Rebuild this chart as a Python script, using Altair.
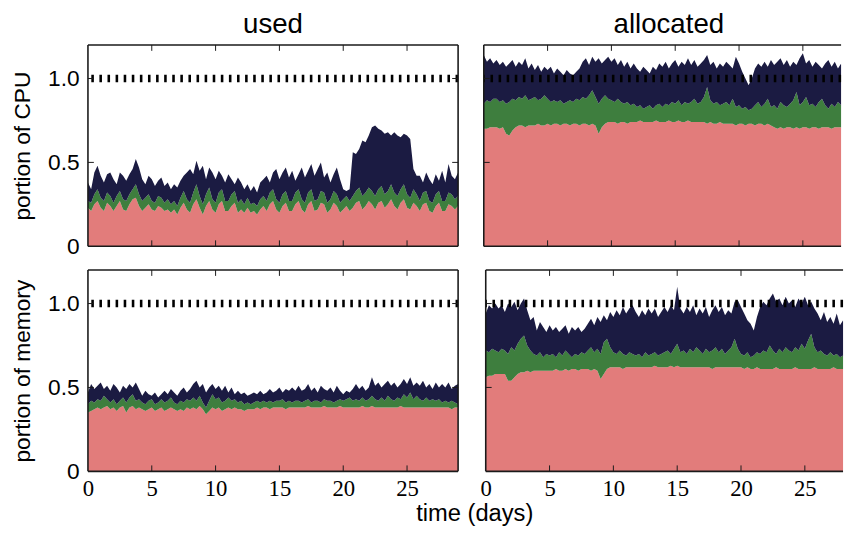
import altair as alt
import pandas as pd

days = [i * 0.25 for i in range(117)]

x_tick_values = [0, 5, 10, 15, 20, 25]
inner_x_ticks = [5, 10, 15, 20, 25]
y_tick_values = [0, 0.5, 1.0]
inner_y_ticks = [0.5, 1.0]
capacity_line = [1.0]

row_titles = ["portion of CPU", "portion of memory"]
col_titles = ["used", "allocated"]
x_title = "time (days)"

# CPU used: top of salmon, top of green, top of navy
cpu_used_base = [
    0.23, 0.21, 0.25, 0.27, 0.23, 0.21, 0.26, 0.24, 0.21, 0.24, 0.27, 0.22, 0.21, 0.25, 0.28, 0.29, 0.24, 0.21, 0.23, 0.25,
    0.22, 0.21, 0.24, 0.23, 0.21, 0.22, 0.20, 0.22, 0.19, 0.23, 0.26, 0.22, 0.20, 0.25, 0.28, 0.23, 0.19, 0.24, 0.27, 0.22,
    0.20, 0.25, 0.27, 0.21, 0.21, 0.24, 0.26, 0.20, 0.22, 0.20, 0.23, 0.20, 0.21, 0.19, 0.22, 0.24, 0.21, 0.25, 0.27, 0.22,
    0.20, 0.24, 0.26, 0.21, 0.21, 0.25, 0.27, 0.22, 0.20, 0.25, 0.27, 0.21, 0.22, 0.26, 0.25, 0.20, 0.22, 0.26, 0.24, 0.20,
    0.22, 0.24, 0.21, 0.23, 0.26, 0.27, 0.22, 0.24, 0.27, 0.25, 0.22, 0.26, 0.27, 0.23, 0.25, 0.28, 0.24, 0.22, 0.26, 0.28,
    0.23, 0.22, 0.26, 0.24, 0.21, 0.25, 0.26, 0.21, 0.20, 0.24, 0.26, 0.21, 0.21, 0.25, 0.24, 0.22, 0.24,
]
cpu_used_mid = [
    0.27, 0.26, 0.31, 0.34, 0.29, 0.27, 0.32, 0.30, 0.26, 0.30, 0.33, 0.28, 0.27, 0.31, 0.34, 0.37, 0.31, 0.27, 0.29, 0.31,
    0.27, 0.26, 0.30, 0.29, 0.26, 0.28, 0.25, 0.27, 0.24, 0.29, 0.33, 0.28, 0.26, 0.32, 0.37, 0.30, 0.25, 0.31, 0.35, 0.28,
    0.26, 0.32, 0.34, 0.27, 0.27, 0.31, 0.33, 0.26, 0.28, 0.25, 0.29, 0.25, 0.26, 0.24, 0.28, 0.30, 0.27, 0.32, 0.34, 0.28,
    0.26, 0.31, 0.33, 0.27, 0.27, 0.32, 0.34, 0.28, 0.26, 0.32, 0.34, 0.27, 0.28, 0.33, 0.32, 0.26, 0.28, 0.33, 0.31, 0.26,
    0.28, 0.30, 0.27, 0.30, 0.33, 0.35, 0.30, 0.32, 0.35, 0.33, 0.30, 0.34, 0.36, 0.31, 0.33, 0.37, 0.32, 0.30, 0.34, 0.37,
    0.31, 0.29, 0.34, 0.31, 0.27, 0.32, 0.33, 0.27, 0.26, 0.31, 0.33, 0.27, 0.27, 0.32, 0.31, 0.28, 0.30,
]
cpu_used_top = [
    0.38, 0.34, 0.44, 0.48, 0.42, 0.38, 0.43, 0.44, 0.40, 0.37, 0.44, 0.42, 0.39, 0.43, 0.46, 0.52, 0.47, 0.40, 0.37, 0.42,
    0.40, 0.36, 0.39, 0.41, 0.36, 0.38, 0.34, 0.37, 0.35, 0.39, 0.42, 0.44, 0.46, 0.43, 0.51, 0.45, 0.48, 0.40, 0.47, 0.44,
    0.40, 0.45, 0.42, 0.38, 0.43, 0.40, 0.37, 0.41, 0.38, 0.34, 0.37, 0.33, 0.36, 0.32, 0.38, 0.40, 0.42, 0.38, 0.44, 0.46,
    0.40, 0.44, 0.47, 0.41, 0.45, 0.39, 0.43, 0.47, 0.41, 0.45, 0.49, 0.42, 0.46, 0.50, 0.41, 0.44, 0.38, 0.43, 0.47, 0.40,
    0.34, 0.33, 0.34, 0.56, 0.55, 0.58, 0.63, 0.62, 0.66, 0.71, 0.72, 0.70, 0.69, 0.67, 0.68, 0.66, 0.68, 0.66, 0.65, 0.67,
    0.66, 0.64, 0.46, 0.42, 0.42, 0.38, 0.44, 0.40, 0.37, 0.43, 0.39, 0.45, 0.38, 0.49, 0.42, 0.40, 0.44,
]

# CPU allocated
cpu_alloc_base = [
    0.70, 0.70, 0.71, 0.71, 0.71, 0.70, 0.71, 0.67, 0.66, 0.69, 0.71, 0.72, 0.72, 0.71, 0.72, 0.72, 0.72, 0.73, 0.72, 0.72,
    0.73, 0.72, 0.73, 0.73, 0.72, 0.73, 0.73, 0.72, 0.73, 0.73, 0.72, 0.73, 0.73, 0.72, 0.73, 0.72, 0.67, 0.71, 0.73, 0.74,
    0.74, 0.74, 0.73, 0.74, 0.74, 0.73, 0.74, 0.74, 0.74, 0.75, 0.74, 0.74, 0.74, 0.74, 0.75, 0.74, 0.74, 0.74, 0.75, 0.74,
    0.74, 0.75, 0.74, 0.74, 0.75, 0.74, 0.74, 0.74, 0.74, 0.74, 0.73, 0.74, 0.73, 0.73, 0.74, 0.73, 0.73, 0.73, 0.73, 0.72,
    0.73, 0.73, 0.72, 0.73, 0.73, 0.72, 0.73, 0.73, 0.72, 0.73, 0.72, 0.71, 0.70, 0.71, 0.70, 0.71, 0.71, 0.70, 0.71, 0.70,
    0.71, 0.71, 0.70, 0.71, 0.71, 0.70, 0.71, 0.71, 0.71, 0.70, 0.71, 0.71, 0.71, 0.70, 0.70, 0.70, 0.70,
]
cpu_alloc_mid = [
    0.85, 0.87, 0.86, 0.88, 0.88, 0.86, 0.87, 0.85, 0.86, 0.88, 0.87, 0.89, 0.88, 0.90, 0.87, 0.88, 0.89, 0.87, 0.88, 0.90,
    0.88, 0.86, 0.87, 0.86, 0.87, 0.85, 0.86, 0.87, 0.86, 0.88, 0.87, 0.89, 0.88, 0.90, 0.93, 0.89, 0.85, 0.88, 0.90, 0.88,
    0.87, 0.86, 0.88, 0.86, 0.85, 0.86, 0.84, 0.85, 0.83, 0.84, 0.82, 0.83, 0.84, 0.82, 0.84, 0.85, 0.83, 0.85, 0.84, 0.86,
    0.85, 0.87, 0.84, 0.86, 0.85, 0.86, 0.88, 0.85, 0.86, 0.89, 0.95, 0.87, 0.85, 0.86, 0.84, 0.85, 0.86, 0.84, 0.88, 0.83,
    0.84, 0.82, 0.83, 0.81, 0.82, 0.84, 0.86, 0.83, 0.85, 0.88, 0.83, 0.84, 0.82, 0.86, 0.84, 0.83, 0.85, 0.87, 0.92, 0.84,
    0.86, 0.89, 0.84, 0.85, 0.83, 0.86, 0.88, 0.84, 0.82, 0.85, 0.83, 0.86, 0.84, 0.82, 0.85, 0.81, 0.79,
]
cpu_alloc_top = [
    1.14, 1.10, 1.12, 1.09, 1.11, 1.08, 1.10, 1.07, 1.09, 1.11, 1.07, 1.10, 1.08, 1.12, 1.06, 1.09, 1.05, 1.08, 1.04, 1.07,
    1.05, 1.07, 1.03, 1.06, 1.04, 1.02, 1.05, 1.03, 1.02, 1.04, 1.06, 1.10, 1.12, 1.08, 1.13, 1.10, 1.12, 1.09, 1.11, 1.13,
    1.10, 1.12, 1.08, 1.11, 1.07, 1.10, 1.06, 1.09, 1.06, 1.04, 1.07, 1.05, 1.03, 1.07, 1.05, 1.09, 1.07, 1.10, 1.06, 1.09,
    1.11, 1.07, 1.10, 1.08, 1.12, 1.08, 1.11, 1.07, 1.09, 1.11, 1.14, 1.08, 1.10, 1.06, 1.09, 1.07, 1.10, 1.08, 1.06, 1.13,
    1.09, 1.04, 1.00, 0.96, 1.00, 1.06, 1.09, 1.07, 1.10, 1.07, 1.11, 1.08, 1.10, 1.12, 1.08, 1.11, 1.07, 1.10, 1.08, 1.12,
    1.15, 1.09, 1.11, 1.07, 1.10, 1.08, 1.06, 1.09, 1.11, 1.07, 1.10, 1.06, 1.09, 1.05, 1.08, 1.04, 1.07,
]

# memory used
mem_used_base = [
    0.35, 0.36, 0.37, 0.38, 0.37, 0.38, 0.39, 0.37, 0.38, 0.36, 0.38, 0.39, 0.35, 0.38, 0.39, 0.37, 0.38, 0.37, 0.36, 0.37,
    0.38, 0.36, 0.37, 0.38, 0.36, 0.37, 0.38, 0.37, 0.36, 0.37, 0.36, 0.38, 0.37, 0.38, 0.37, 0.39, 0.37, 0.34, 0.36, 0.38,
    0.37, 0.38, 0.36, 0.37, 0.38, 0.37, 0.38, 0.37, 0.37, 0.36, 0.37, 0.37, 0.37, 0.38, 0.37, 0.38, 0.38, 0.37, 0.38, 0.38,
    0.38, 0.38, 0.37, 0.38, 0.38, 0.38, 0.38, 0.38, 0.38, 0.39, 0.38, 0.38, 0.38, 0.38, 0.39, 0.38, 0.38, 0.38, 0.38, 0.39,
    0.38, 0.38, 0.38, 0.38, 0.38, 0.38, 0.39, 0.38, 0.38, 0.39, 0.38, 0.38, 0.38, 0.38, 0.38, 0.38, 0.38, 0.38, 0.39, 0.38,
    0.38, 0.38, 0.38, 0.38, 0.38, 0.38, 0.38, 0.38, 0.38, 0.38, 0.38, 0.38, 0.38, 0.38, 0.37, 0.38, 0.38,
]
mem_used_mid = [
    0.40, 0.42, 0.41, 0.43, 0.42, 0.45, 0.43, 0.41, 0.43, 0.40, 0.42, 0.44, 0.41, 0.44, 0.46, 0.42, 0.43, 0.41, 0.40, 0.42,
    0.43, 0.40, 0.41, 0.43, 0.41, 0.42, 0.44, 0.41, 0.40, 0.42, 0.41, 0.43, 0.42, 0.44, 0.42, 0.45, 0.41, 0.38, 0.42, 0.46,
    0.43, 0.44, 0.41, 0.42, 0.44, 0.42, 0.43, 0.41, 0.42, 0.40, 0.41, 0.40, 0.41, 0.42, 0.41, 0.42, 0.41, 0.42, 0.41, 0.42,
    0.42, 0.43, 0.41, 0.42, 0.41, 0.42, 0.42, 0.41, 0.42, 0.43, 0.41, 0.42, 0.42, 0.41, 0.43, 0.42, 0.42, 0.41, 0.42, 0.43,
    0.42, 0.43, 0.44, 0.42, 0.43, 0.42, 0.44, 0.42, 0.43, 0.45, 0.43, 0.42, 0.44, 0.42, 0.45, 0.43, 0.42, 0.44, 0.43, 0.46,
    0.44, 0.47, 0.43, 0.45, 0.43, 0.42, 0.44, 0.42, 0.43, 0.42, 0.43, 0.41, 0.42, 0.41, 0.42, 0.41, 0.40,
]
mem_used_top = [
    0.47, 0.52, 0.49, 0.51, 0.53, 0.49, 0.51, 0.48, 0.52, 0.50, 0.47, 0.51, 0.49, 0.52, 0.50, 0.53, 0.49, 0.45, 0.48, 0.46,
    0.45, 0.47, 0.44, 0.46, 0.48, 0.46, 0.49, 0.47, 0.45, 0.48, 0.50, 0.47, 0.49, 0.52, 0.54, 0.50, 0.52, 0.47, 0.50, 0.52,
    0.49, 0.51, 0.48, 0.51, 0.47, 0.50, 0.46, 0.48, 0.46, 0.47, 0.45, 0.46, 0.47, 0.46, 0.48, 0.46, 0.47, 0.49, 0.47, 0.48,
    0.50, 0.47, 0.49, 0.48, 0.50, 0.48, 0.51, 0.48, 0.49, 0.52, 0.48, 0.50, 0.47, 0.51, 0.49, 0.48, 0.50, 0.47, 0.51, 0.48,
    0.46, 0.48, 0.47, 0.49, 0.52, 0.49, 0.51, 0.48, 0.50, 0.56, 0.51, 0.53, 0.50, 0.52, 0.54, 0.51, 0.53, 0.50, 0.52, 0.55,
    0.52, 0.56, 0.51, 0.53, 0.51, 0.54, 0.50, 0.52, 0.49, 0.53, 0.50, 0.52, 0.50, 0.53, 0.49, 0.51, 0.52,
]

# memory allocated
mem_alloc_base = [
    0.56, 0.57, 0.57, 0.58, 0.58, 0.58, 0.58, 0.54, 0.54, 0.56, 0.58, 0.59, 0.59, 0.60, 0.59, 0.60, 0.60, 0.60, 0.60, 0.60,
    0.60, 0.60, 0.61, 0.60, 0.60, 0.61, 0.60, 0.61, 0.61, 0.60, 0.61, 0.61, 0.61, 0.60, 0.61, 0.60, 0.55, 0.58, 0.61, 0.62,
    0.62, 0.62, 0.62, 0.61, 0.62, 0.62, 0.62, 0.62, 0.62, 0.62, 0.62, 0.62, 0.62, 0.63, 0.62, 0.62, 0.62, 0.62, 0.63, 0.62,
    0.63, 0.62, 0.62, 0.62, 0.62, 0.62, 0.62, 0.62, 0.62, 0.62, 0.62, 0.61, 0.62, 0.62, 0.62, 0.62, 0.62, 0.62, 0.62, 0.62,
    0.62, 0.61, 0.62, 0.61, 0.61, 0.62, 0.61, 0.61, 0.61, 0.61, 0.61, 0.62, 0.61, 0.61, 0.61, 0.61, 0.61, 0.62, 0.61, 0.61,
    0.61, 0.61, 0.61, 0.62, 0.61, 0.61, 0.61, 0.61, 0.61, 0.62, 0.61, 0.61, 0.61, 0.61, 0.61, 0.60, 0.60,
]
mem_alloc_mid = [
    0.72, 0.71, 0.73, 0.72, 0.71, 0.73, 0.72, 0.70, 0.74, 0.72, 0.76, 0.79, 0.81, 0.75, 0.72, 0.70, 0.69, 0.71, 0.68, 0.70,
    0.69, 0.70, 0.68, 0.71, 0.69, 0.72, 0.70, 0.68, 0.70, 0.69, 0.71, 0.70, 0.72, 0.74, 0.71, 0.73, 0.70, 0.77, 0.79, 0.74,
    0.71, 0.70, 0.72, 0.70, 0.69, 0.71, 0.70, 0.69, 0.70, 0.68, 0.71, 0.69, 0.70, 0.71, 0.69, 0.70, 0.71, 0.72, 0.70, 0.73,
    0.76, 0.71, 0.72, 0.70, 0.73, 0.71, 0.74, 0.72, 0.70, 0.73, 0.71, 0.72, 0.74, 0.71, 0.73, 0.70, 0.72, 0.74, 0.79, 0.73,
    0.70, 0.69, 0.71, 0.68, 0.69, 0.71, 0.70, 0.72, 0.71, 0.75, 0.72, 0.70, 0.73, 0.71, 0.74, 0.72, 0.71, 0.74, 0.72, 0.76,
    0.73, 0.78, 0.82, 0.74, 0.71, 0.72, 0.70, 0.69, 0.71, 0.69, 0.70, 0.68, 0.69, 0.67, 0.68, 0.67, 0.68,
]
mem_alloc_top = [
    0.94, 0.99, 0.97, 1.00, 0.97, 0.99, 0.95, 1.00, 0.98, 1.01, 0.96, 1.00, 1.03, 0.96, 0.90, 0.92, 0.84, 0.89, 0.86, 0.83,
    0.87, 0.84, 0.86, 0.83, 0.85, 0.87, 0.82, 0.86, 0.84, 0.86, 0.83, 0.85, 0.88, 0.91, 0.87, 0.92, 0.89, 0.93, 0.90, 0.95,
    0.92, 0.96, 0.93, 0.98, 0.94, 0.97, 0.99, 0.95, 0.92, 0.96, 0.93, 0.97, 0.94, 0.97, 0.92, 0.95, 0.98, 0.95, 0.99, 0.96,
    1.10, 0.97, 0.94, 0.98, 0.95, 0.99, 0.93, 0.97, 0.94, 0.98, 0.92, 0.96, 0.99, 0.95, 0.98, 0.93, 0.96, 0.94, 1.01, 1.02,
    0.98, 0.94, 0.90, 0.88, 0.84, 0.92, 0.98, 1.01, 0.99, 1.03, 1.06, 1.01, 1.03, 0.99, 1.04, 1.00, 1.02, 0.98, 1.03, 1.00,
    1.04, 0.99, 1.01, 0.97, 0.94, 0.90, 0.95, 0.89, 0.92, 0.88, 0.94, 0.87, 0.90, 0.86, 1.02, 1.12, 1.16,
]

# ---------------- styling ----------------
SALMON = "#E27C7B"
GREEN = "#3E7E3E"
NAVY = "#1B1B42"
FRAME = "#1a1a1a"
SANS = "Liberation Sans"
SERIF = "Liberation Serif"

PANEL_H = 204
LEFT_W = 375
RIGHT_W = 362
PX_PER_DAY = LEFT_W / 29.0
LEFT_XMAX = 29.0
RIGHT_XMAX = RIGHT_W / PX_PER_DAY
TICK = 6


def one_row():
    return alt.Data(values=[{"k": 1}])


def panel(base, mid, top, width, xmax, show_x, ytitle=None, title=None):
    n = min(len(days), len(base), len(mid), len(top))
    df = pd.DataFrame({"day": days[:n], "base": base[:n], "mid": mid[:n], "top": top[:n]})

    xscale = alt.Scale(domain=[0, xmax], nice=False, zero=False)
    yscale = alt.Scale(domain=[0, 1.2], nice=False)

    if show_x:
        xaxis = alt.Axis(values=x_tick_values, labelFont=SERIF, labelFontSize=23, labelColor="black",
                         ticks=False, tickSize=0, domain=False, grid=False, title=None,
                         labelPadding=6, labelFlush=False, labelOverlap=False, format="d")
    else:
        xaxis = None
    if ytitle is not None:
        yaxis = alt.Axis(values=y_tick_values, labelFont=SANS, labelFontSize=23, labelColor="black",
                         labelExpr="datum.value == 0 ? '0' : format(datum.value, '.1f')",
                         ticks=False, tickSize=0, domain=False, grid=False, labelPadding=9,
                         minExtent=42, maxExtent=42, title=ytitle, titleFont=SANS, titleFontSize=23,
                         titleFontWeight="normal", titleColor="black", titlePadding=12)
    else:
        yaxis = None

    def X(field):
        return alt.X(field, type="quantitative", scale=xscale, axis=xaxis)

    def Y(field):
        return alt.Y(field, type="quantitative", scale=yscale, axis=yaxis)

    src = alt.Chart(df)
    salmon = src.mark_area(color=SALMON, clip=True).encode(x=X("day"), y=Y("base"))
    green = src.mark_area(color=GREEN, clip=True).encode(x=X("day"), y=Y("mid"), y2="base")
    navy = src.mark_area(color=NAVY, clip=True).encode(x=X("day"), y=Y("top"), y2="mid")

    dotted = alt.Chart(alt.Data(values=[{"v": v} for v in capacity_line])).mark_rule(
        color="black", strokeWidth=7.5, strokeDash=[2.6, 5.6], strokeCap="butt"
    ).encode(y=Y("v"))

    xt_data = alt.Data(values=[{"t": t} for t in inner_x_ticks])
    yt_data = alt.Data(values=[{"v": v} for v in inner_y_ticks])
    xt_bottom = alt.Chart(xt_data).mark_rule(color=FRAME, strokeWidth=1).encode(
        x=X("t"), y=alt.value(PANEL_H), y2=alt.value(PANEL_H - TICK))
    xt_top = alt.Chart(xt_data).mark_rule(color=FRAME, strokeWidth=1).encode(
        x=X("t"), y=alt.value(0), y2=alt.value(TICK))
    yt_left = alt.Chart(yt_data).mark_rule(color=FRAME, strokeWidth=1).encode(
        y=Y("v"), x=alt.value(0), x2=alt.value(TICK))
    layers = [salmon, green, navy, dotted, xt_bottom, xt_top, yt_left]
    full = xmax >= 29
    if full:
        yt_right = alt.Chart(yt_data).mark_rule(color=FRAME, strokeWidth=1).encode(
            y=Y("v"), x=alt.value(width - TICK), x2=alt.value(width))
        layers.append(yt_right)

    fr = dict(color=FRAME, strokeWidth=1.6)
    layers.append(alt.Chart(one_row()).mark_rule(**fr).encode(
        x=alt.value(0), x2=alt.value(width), y=alt.value(0)))
    layers.append(alt.Chart(one_row()).mark_rule(**fr).encode(
        x=alt.value(0), x2=alt.value(width), y=alt.value(PANEL_H)))
    layers.append(alt.Chart(one_row()).mark_rule(**fr).encode(
        x=alt.value(0), y=alt.value(0), y2=alt.value(PANEL_H)))
    if full:
        layers.append(alt.Chart(one_row()).mark_rule(**fr).encode(
            x=alt.value(width), y=alt.value(0), y2=alt.value(PANEL_H)))

    props = dict(width=width, height=PANEL_H)
    if title is not None:
        shift = 0 if full else (LEFT_W - width) / 2.0
        props["title"] = alt.TitleParams(title, font=SANS, fontSize=28, fontWeight="normal",
                                         color="black", anchor="middle", offset=5, dx=shift)
    return alt.layer(*layers).properties(**props)


p_cpu_used = panel(cpu_used_base, cpu_used_mid, cpu_used_top, LEFT_W, LEFT_XMAX, False,
                   ytitle=row_titles[0], title=col_titles[0])
p_cpu_alloc = panel(cpu_alloc_base, cpu_alloc_mid, cpu_alloc_top, RIGHT_W, RIGHT_XMAX, False,
                    title=col_titles[1])
p_mem_used = panel(mem_used_base, mem_used_mid, mem_used_top, LEFT_W, LEFT_XMAX, True,
                   ytitle=row_titles[1])
p_mem_alloc = panel(mem_alloc_base, mem_alloc_mid, mem_alloc_top, RIGHT_W, RIGHT_XMAX, True)

row1 = alt.hconcat(p_cpu_used, p_cpu_alloc, spacing=18)
row2 = alt.hconcat(p_mem_used, p_mem_alloc, spacing=18)

chart = alt.vconcat(row1, row2, spacing=11).properties(
    title=alt.TitleParams(x_title, orient="bottom", anchor="middle", font=SANS, fontSize=24,
                          fontWeight="normal", color="black", offset=2, dx=46),
    padding={"left": 4, "top": 0, "right": 0, "bottom": 0},
).configure_view(stroke=None)

chart.save("out.html", embed_options={"renderer": "svg", "actions": False})
